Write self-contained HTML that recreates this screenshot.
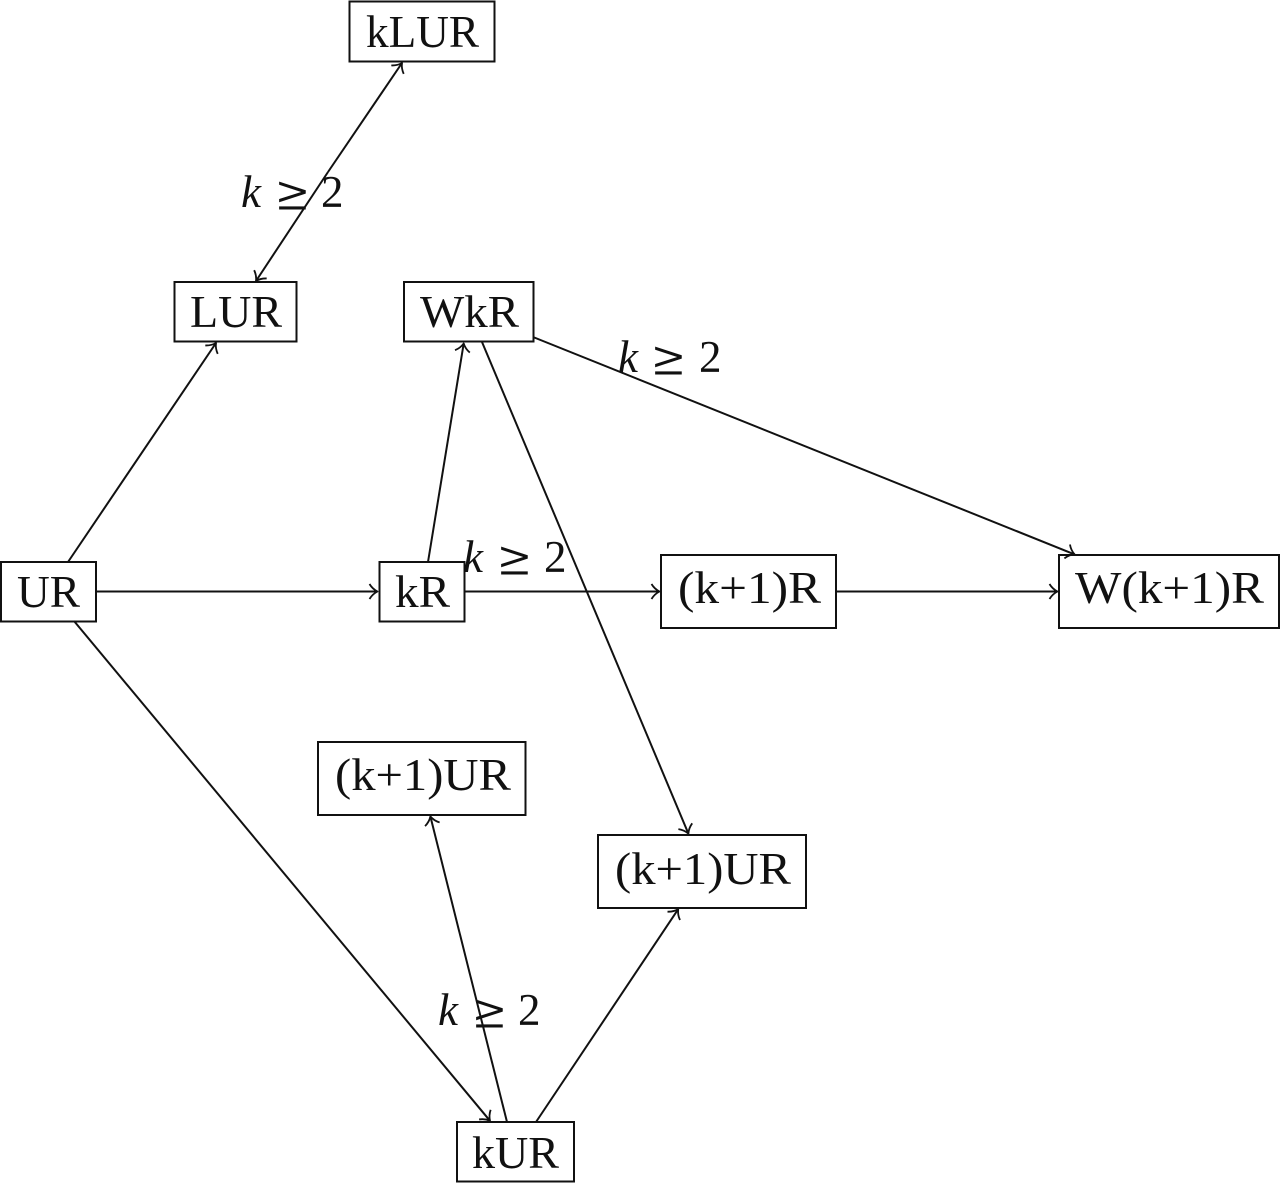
<!DOCTYPE html>
<html>
<head>
<meta charset="utf-8">
<style>
html,body{margin:0;padding:0;background:#fff;}
svg{display:block;}
text{font-family:"Liberation Serif",serif;font-size:45px;fill:#111;}
text.g{font-family:"DejaVu Sans","Liberation Serif",sans-serif;font-size:50px;stroke:#fff;stroke-width:1.1;}
rect{fill:none;stroke:#111;stroke-width:2;}
.e{stroke:#111;stroke-width:2;fill:none;}
.h{stroke:#111;stroke-width:1.8;fill:none;stroke-linejoin:round;}
</style>
</head>
<body>
<svg width="1280" height="1183" viewBox="0 0 1280 1183" xmlns="http://www.w3.org/2000/svg">
<defs>
<marker id="a" markerUnits="userSpaceOnUse" markerWidth="16" markerHeight="20" refX="11" refY="10" orient="auto">
<path class="h" d="M3 2.5 Q6 7.5 11 10 Q6 12.5 3 17.5"/>
</marker>
</defs>

<text class="g" x="274" y="210" textLength="37" lengthAdjust="spacingAndGlyphs">≥</text>
<text class="g" x="650" y="375" textLength="37" lengthAdjust="spacingAndGlyphs">≥</text>
<text class="g" x="496" y="575" textLength="37" lengthAdjust="spacingAndGlyphs">≥</text>
<text class="g" x="471" y="1028" textLength="37" lengthAdjust="spacingAndGlyphs">≥</text>

<rect x="349.5" y="1.5" width="145" height="60"/>
<rect x="174.5" y="282" width="122" height="59.5"/>
<rect x="404" y="282" width="129.5" height="59.5"/>
<rect x="1" y="562" width="95" height="59.5"/>
<rect x="379.5" y="562" width="85" height="59.5"/>
<rect x="661" y="555" width="175" height="73"/>
<rect x="1059" y="555" width="220" height="73"/>
<rect x="318" y="742" width="207.5" height="73"/>
<rect x="598" y="835" width="208" height="73"/>
<rect x="457" y="1122" width="117" height="59.5"/>

<text x="366" y="47" textLength="113" lengthAdjust="spacingAndGlyphs">kLUR</text>
<text x="190" y="327" textLength="92" lengthAdjust="spacingAndGlyphs">LUR</text>
<text x="420" y="327" textLength="99" lengthAdjust="spacingAndGlyphs">WkR</text>
<text x="17" y="607" textLength="63" lengthAdjust="spacingAndGlyphs">UR</text>
<text x="395" y="607" textLength="55" lengthAdjust="spacingAndGlyphs">kR</text>
<text x="678" y="603" textLength="143" lengthAdjust="spacingAndGlyphs">(k+1)R</text>
<text x="1075" y="603" textLength="189" lengthAdjust="spacingAndGlyphs">W(k+1)R</text>
<text x="335" y="790" textLength="176" lengthAdjust="spacingAndGlyphs">(k+1)UR</text>
<text x="615" y="884" textLength="176" lengthAdjust="spacingAndGlyphs">(k+1)UR</text>
<text x="472" y="1168" textLength="87" lengthAdjust="spacingAndGlyphs">kUR</text>

<line class="e" x1="328" y1="172" x2="402" y2="63" marker-end="url(#a)"/>
<line class="e" x1="328" y1="172" x2="256" y2="281" marker-end="url(#a)"/>
<line class="e" x1="68" y1="562" x2="216" y2="343" marker-end="url(#a)"/>
<line class="e" x1="96" y1="591.5" x2="377.5" y2="591.5" marker-end="url(#a)"/>
<line class="e" x1="428" y1="562" x2="463.7" y2="343.5" marker-end="url(#a)"/>
<line class="e" x1="464.5" y1="591.5" x2="659.5" y2="591.5" marker-end="url(#a)"/>
<line class="e" x1="836" y1="591.5" x2="1057.5" y2="591.5" marker-end="url(#a)"/>
<line class="e" x1="533" y1="337" x2="1074.6" y2="554.4" marker-end="url(#a)"/>
<line class="e" x1="482" y1="342" x2="688.4" y2="833.6" marker-end="url(#a)"/>
<line class="e" x1="74" y1="621" x2="490" y2="1120.8" marker-end="url(#a)"/>
<line class="e" x1="507" y1="1122" x2="430.4" y2="816.5" marker-end="url(#a)"/>
<line class="e" x1="536" y1="1122" x2="678.2" y2="909.2" marker-end="url(#a)"/>

<text x="241" y="207" style="font-style:italic">k</text>
<text x="321" y="207">2</text>

<text x="618" y="372" style="font-style:italic">k</text>
<text x="699" y="372">2</text>

<text x="463" y="572" style="font-style:italic">k</text>
<text x="544" y="572">2</text>

<text x="438" y="1025" style="font-style:italic">k</text>
<text x="518" y="1025">2</text>
</svg>
</body>
</html>
